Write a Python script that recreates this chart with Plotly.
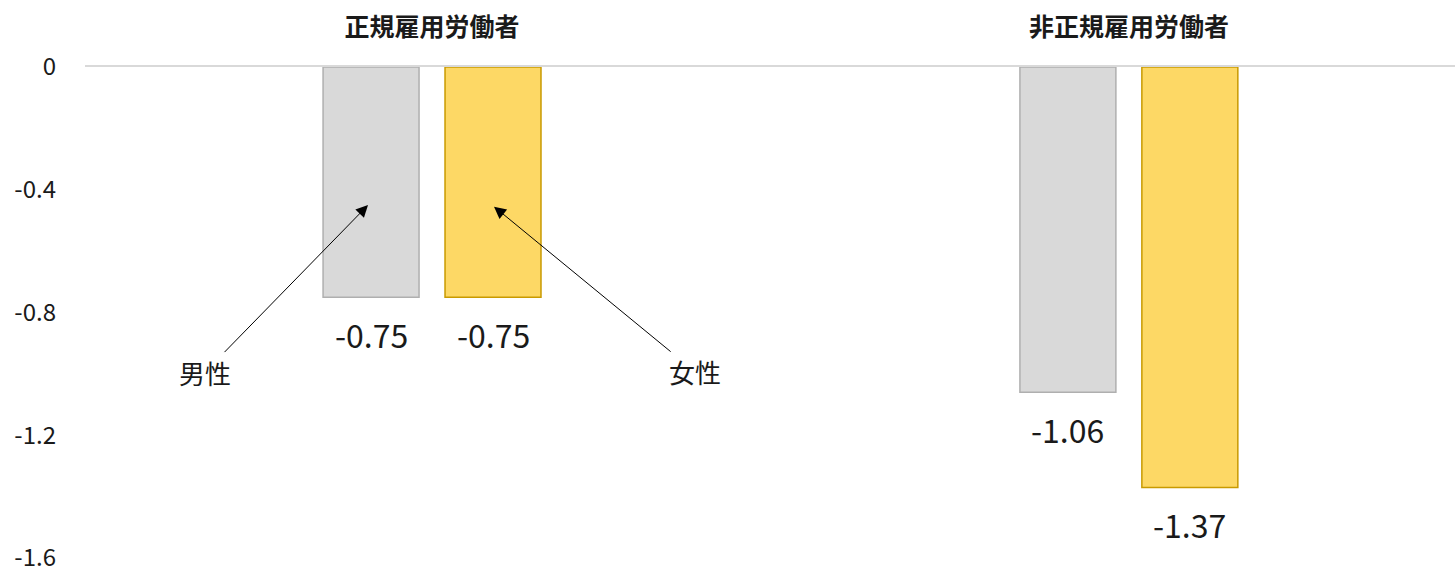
# plot.py
# 雇用形態別・男女別の変化（棒グラフ）
import plotly.graph_objects as go

# データ
categories = ["正規雇用労働者", "非正規雇用労働者"]
male_vals = [-0.75, -1.06]
female_vals = [-0.75, -1.37]
y_ticks = [0, -0.4, -0.8, -1.2, -1.6]

# 色
C_MALE = "#D9D9D9"
C_MALE_LINE = "#AFAFAF"
C_FEMALE = "#FDD865"
C_FEMALE_LINE = "#C99A00"
C_TEXT = "#1A1A1A"
FONT = "Noto Sans CJK JP"

fig = go.Figure()

fig.add_trace(go.Bar(
    x=categories, y=male_vals, name="男性",
    marker=dict(color=C_MALE, line=dict(color=C_MALE_LINE, width=1.5)),
))
fig.add_trace(go.Bar(
    x=categories, y=female_vals, name="女性",
    marker=dict(color=C_FEMALE, line=dict(color=C_FEMALE_LINE, width=1.5)),
))

# 数値ラベル（棒の下）
annotations = []
for cat, mv, fv in zip(categories, male_vals, female_vals):
    for val, shift in ((mv, -61), (fv, 61)):
        annotations.append(dict(
            x=cat, y=val, xref="x", yref="y",
            text=f"{val:.2f}", showarrow=False,
            xshift=shift, yshift=-12, yanchor="top",
            font=dict(size=32, color=C_TEXT, family=FONT),
        ))

# 凡例代わりの矢印
annotations.append(dict(
    x=categories[0], y=-0.45, xref="x", yref="y", xshift=-64,
    text="男性", showarrow=True, ax=-163, ay=167,
    arrowhead=2, arrowsize=2.4, arrowwidth=1, arrowcolor="black",
    font=dict(size=26, color=C_TEXT, family=FONT),
))
annotations.append(dict(
    x=categories[0], y=-0.455, xref="x", yref="y", xshift=62,
    text="女性", showarrow=True, ax=201, ay=165,
    arrowhead=2, arrowsize=2.4, arrowwidth=1, arrowcolor="black",
    font=dict(size=26, color=C_TEXT, family=FONT),
))

fig.update_layout(
    barmode="group",
    bargap=0.65,
    bargroupgap=0.213,
    showlegend=False,
    plot_bgcolor="white",
    paper_bgcolor="white",
    font=dict(family=FONT, color=C_TEXT),
    width=1455, height=573,
    margin=dict(l=85, r=0, t=67, b=15),
    xaxis=dict(
        side="top",
        automargin=False,
        range=[-0.498, 1.468],
        showline=True, linecolor="#D9D9D9", linewidth=1.5,
        showgrid=False, ticks="",
        tickfont=dict(size=25, color=C_TEXT, family=FONT),
        tickvals=categories,
        ticktext=[f"<b>{c}</b>" for c in categories],
        ticklabelstandoff=19,
    ),
    yaxis=dict(
        automargin=False,
        range=[-1.6, 0],
        tickvals=y_ticks,
        ticktext=[f"{v:g}" for v in y_ticks],
        showgrid=False, zeroline=False,
        tickfont=dict(size=24, color=C_TEXT, family=FONT),
        ticklabelstandoff=28,
        ticklabeloverflow="allow",
    ),
    annotations=annotations,
)

# ページ余白を消して 1455x573 にぴったり収める
fig.write_html(
    "out.html",
    config={"displayModeBar": False},
    post_script="document.body.style.margin='0';",
)
